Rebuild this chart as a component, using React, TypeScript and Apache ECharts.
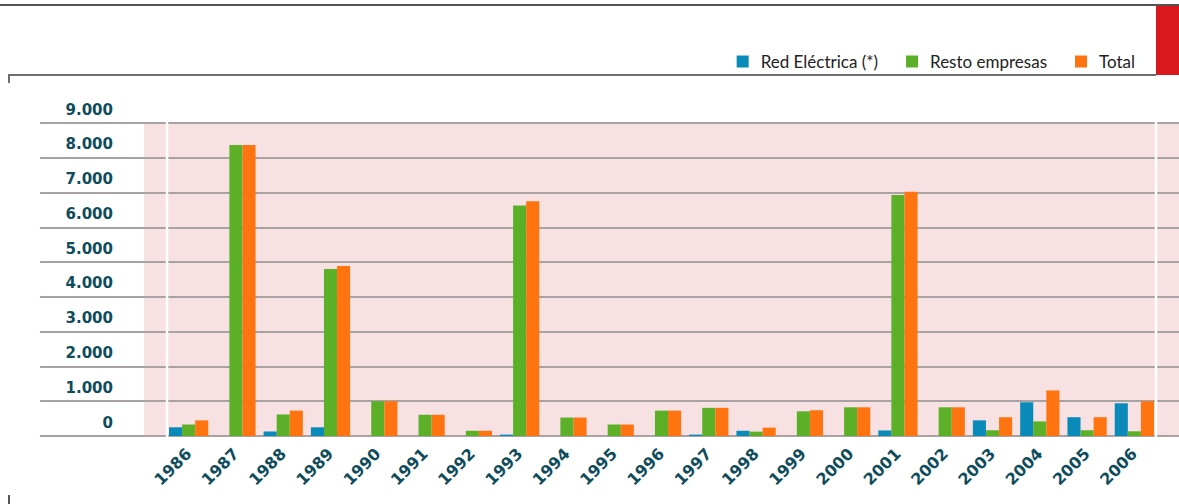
import React, { useEffect, useRef } from "react";
import * as echarts from "echarts";

const years = ["1986","1987","1988","1989","1990","1991","1992","1993","1994","1995","1996","1997","1998","1999","2000","2001","2002","2003","2004","2005","2006"];
const redElectrica = [250, 0, 130, 250, 0, 0, 0, 40, 0, 0, 0, 40, 150, 0, 0, 160, 0, 450, 970, 540, 940];
const restoEmpresas = [330, 8370, 620, 4800, 1000, 610, 150, 6630, 530, 330, 730, 810, 125, 710, 825, 6930, 825, 165, 420, 165, 135];
const total = [450, 8370, 730, 4890, 1000, 610, 150, 6750, 530, 330, 730, 810, 240, 740, 825, 7020, 825, 540, 1310, 540, 1000];
const seriesNames = ["Red Eléctrica (*)", "Resto empresas", "Total"];
const colors = ["#0a8ab8", "#5cb027", "#ff7410"];
const yMax = 9000;
const yStep = 1000;

const fmt = (v: number) => (v === 0 ? "0" : v.toLocaleString("de-DE"));

export default function App() {
  const ref = useRef<HTMLDivElement>(null);
  useEffect(() => {
    if (!ref.current) return;
    const chart = echarts.init(ref.current, undefined, { renderer: "svg" });
    const labelColor = "#0e4c5c";
    const axisFont = "'DejaVu Sans', sans-serif";
    const legendFont = "Lato, sans-serif";
    chart.setOption({
      animation: false,
      backgroundColor: "#ffffff",
      legend: {
        data: seriesNames,
        right: 39,
        top: 48,
        icon: "rect",
        itemWidth: 12,
        itemHeight: 12,
        itemGap: 28,
        textStyle: { color: "#222", fontSize: 17, fontFamily: legendFont, padding: [0, 0, 0, 7] },
      },
      grid: [
        { left: 165, right: 21, top: 123, bottom: 68 },
        { left: 40, right: 0, top: 123, bottom: 68 },
      ],
      xAxis: [
        {
          type: "category",
          gridIndex: 0,
          data: years,
          axisLine: { show: false },
          axisTick: { show: false },
          axisLabel: {
            rotate: 45,
            margin: 15,
            color: labelColor,
            fontSize: 16,
            fontWeight: "bold",
            fontFamily: axisFont,
            lineHeight: 16,
            padding: [18, 0, 0, 0],
            interval: 0,
          },
        },
        { type: "value", gridIndex: 1, show: false, min: 0, max: 1 },
      ],
      yAxis: [
        {
          type: "value",
          gridIndex: 0,
          min: 0,
          max: yMax,
          interval: yStep,
          axisLine: { show: false },
          axisTick: { show: false },
          splitLine: { show: false },
          axisLabel: {
            margin: 52,
            color: labelColor,
            fontSize: 15,
            fontWeight: "bold",
            fontFamily: axisFont,
            verticalAlign: "bottom",
            lineHeight: 15,
            padding: [0, 0, 6, 0],
            formatter: fmt,
          },
        },
        {
          type: "value",
          gridIndex: 1,
          min: 0,
          max: yMax,
          interval: yStep,
          axisLine: { show: false },
          axisTick: { show: false },
          axisLabel: { show: false },
          splitLine: { show: true, lineStyle: { color: "#a9a2a2", width: 2 } },
        },
      ],
      graphic: [
        { type: "line", z: 5, shape: { x1: 0, y1: 5, x2: 1179, y2: 5 }, style: { stroke: "#1a1a1a", lineWidth: 1.5 } },
        { type: "rect", z: 5, shape: { x: 1156, y: 6, width: 23, height: 69 }, style: { fill: "#d8181c" } },
        { type: "line", z: 5, shape: { x1: 8, y1: 75, x2: 1156, y2: 75 }, style: { stroke: "#6e6e6e", lineWidth: 2 } },
        { type: "line", z: 5, shape: { x1: 9, y1: 74, x2: 9, y2: 83 }, style: { stroke: "#6e6e6e", lineWidth: 2 } },
        { type: "line", z: 5, shape: { x1: 9, y1: 495, x2: 9, y2: 504 }, style: { stroke: "#555", lineWidth: 2 } },
        { type: "rect", z: -1, shape: { x: 144, y: 123, width: 1035, height: 313 }, style: { fill: "#f8e1e3" } },
        { type: "line", z: 1, shape: { x1: 167, y1: 121, x2: 167, y2: 437 }, style: { stroke: "#ffffff", lineWidth: 2.5 } },
        { type: "line", z: 1, shape: { x1: 1156, y1: 121, x2: 1156, y2: 437 }, style: { stroke: "#ffffff", lineWidth: 2.5 } },
      ],
      series: [
        { name: seriesNames[0], type: "bar", xAxisIndex: 0, yAxisIndex: 0, data: redElectrica, itemStyle: { color: colors[0] }, barGap: "0%", barCategoryGap: "17%", z: 3 },
        { name: seriesNames[1], type: "bar", xAxisIndex: 0, yAxisIndex: 0, data: restoEmpresas, itemStyle: { color: colors[1] }, barGap: "0%", barCategoryGap: "17%", z: 3 },
        { name: seriesNames[2], type: "bar", xAxisIndex: 0, yAxisIndex: 0, data: total, itemStyle: { color: colors[2] }, barGap: "0%", barCategoryGap: "17%", z: 3 },
      ],
    });
    return () => chart.dispose();
  }, []);
  return <div ref={ref} style={{ width: 1179, height: 504, position: "absolute", left: 0, top: 0 }} />;
}
